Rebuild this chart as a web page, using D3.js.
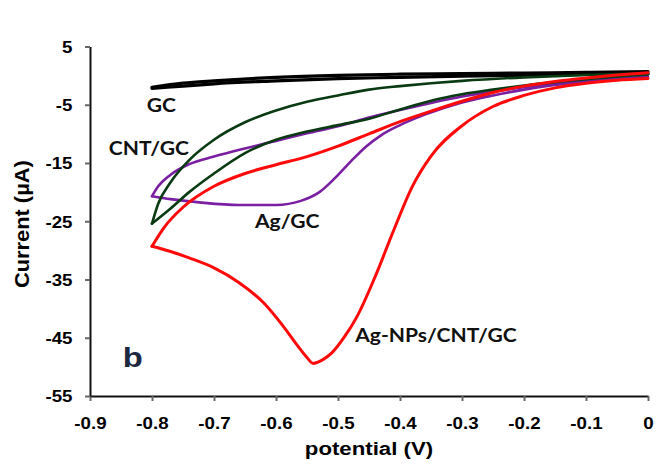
<!DOCTYPE html>
<html>
<head>
<meta charset="utf-8">
<script src="https://cdn.jsdelivr.net/npm/d3@7/dist/d3.min.js"></script>
<style>
  html, body { margin: 0; padding: 0; background: #fff; }
  svg { display: block; }
</style>
</head>
<body>
<div id="chart"></div>
<script>
// axis ticks
const xTicks = [-0.9, -0.8, -0.7, -0.6, -0.5, -0.4, -0.3, -0.2, -0.1, 0];
const xTickLabels = ['-0.9', '-0.8', '-0.7', '-0.6', '-0.5', '-0.4', '-0.3', '-0.2', '-0.1', '0'];
const yTicks = [5, -5, -15, -25, -35, -45, -55];
const yTickLabels = ['5', '-5', '-15', '-25', '-35', '-45', '-55'];

// each CV as two branches [potential V, current uA], both ending at the -0.8 V vertex
const gcUpper = [[0, 0.7], [-0.1, 0.55], [-0.2, 0.45], [-0.3, 0.35], [-0.4, 0.25], [-0.5, 0.05], [-0.6, -0.3], [-0.7, -0.9], [-0.75, -1.3], [-0.8, -2.0]];
const gcLower = [[0, 0.3], [-0.1, 0.2], [-0.2, 0.05], [-0.3, -0.1], [-0.4, -0.3], [-0.5, -0.5], [-0.6, -0.9], [-0.7, -1.4], [-0.75, -1.8], [-0.8, -2.2]];

const agUpper = [[0, 0.3], [-0.1, -0.8], [-0.2, -2.0], [-0.3, -3.6], [-0.35, -4.7], [-0.4, -5.9], [-0.45, -7.2], [-0.5, -8.7], [-0.55, -9.9], [-0.6, -11.2], [-0.65, -12.5], [-0.7, -13.9], [-0.74, -15.2], [-0.77, -17.0], [-0.79, -19.0], [-0.8, -20.7]];
const agLower = [[0, -0.2], [-0.1, -1.0], [-0.2, -2.4], [-0.25, -3.4], [-0.3, -4.6], [-0.36, -6.7], [-0.4, -8.5], [-0.43, -10.2], [-0.455, -12.2], [-0.48, -14.8], [-0.505, -17.6], [-0.53, -20.0], [-0.56, -21.5], [-0.6, -22.2], [-0.66, -22.2], [-0.72, -21.8], [-0.77, -21.2], [-0.8, -20.7]];

const cntUpper = [[0, 0.4], [-0.1, 0.1], [-0.2, -0.3], [-0.3, -0.9], [-0.35, -1.3], [-0.4, -1.8], [-0.45, -2.4], [-0.5, -3.4], [-0.55, -4.5], [-0.6, -6.0], [-0.65, -8.0], [-0.7, -11.0], [-0.74, -14.5], [-0.77, -18.3], [-0.79, -22.0], [-0.8, -25.4]];
const cntLower = [[0, 0.2], [-0.1, -0.6], [-0.2, -1.7], [-0.25, -2.4], [-0.3, -3.2], [-0.35, -4.3], [-0.4, -5.8], [-0.45, -7.4], [-0.5, -8.5], [-0.55, -9.6], [-0.6, -11.0], [-0.65, -13.3], [-0.7, -16.8], [-0.74, -20.0], [-0.77, -22.8], [-0.8, -25.4]];

const npUpper = [[0, 0.5], [-0.05, 0.1], [-0.1, -0.4], [-0.15, -1.0], [-0.2, -1.8], [-0.25, -2.9], [-0.3, -4.4], [-0.35, -6.1], [-0.4, -7.9], [-0.45, -10.0], [-0.5, -12.1], [-0.55, -13.9], [-0.6, -15.3], [-0.65, -16.8], [-0.7, -19.0], [-0.75, -22.6], [-0.78, -26.0], [-0.8, -29.3]];
const npLower = [[0, -0.5], [-0.05, -0.8], [-0.1, -1.3], [-0.15, -2.1], [-0.2, -3.4], [-0.25, -5.3], [-0.3, -8.6], [-0.35, -13.8], [-0.38, -19.0], [-0.41, -26.5], [-0.44, -34.5], [-0.47, -41.5], [-0.49, -44.9], [-0.51, -47.6], [-0.525, -48.8], [-0.54, -49.4], [-0.55, -48.4], [-0.565, -46.4], [-0.59, -42.8], [-0.62, -39.0], [-0.66, -35.5], [-0.7, -33.0], [-0.74, -31.3], [-0.77, -30.2], [-0.8, -29.3]];

const series = [
  { name: 'GC', color: '#000000', width: 3.2, branches: [gcUpper, gcLower] },
  { name: 'Ag/GC', color: '#7a1fa2', width: 2.6, branches: [agUpper, agLower] },
  { name: 'CNT/GC', color: '#0a3a12', width: 2.6, branches: [cntUpper, cntLower] },
  { name: 'Ag-NPs/CNT/GC', color: '#ff0a0a', width: 3, branches: [npUpper, npLower] }
];

const labels = [
  { text: 'GC', v: -0.785, c: -6.2 },
  { text: 'CNT/GC', v: -0.805, c: -13.6 },
  { text: 'Ag/GC', v: -0.582, c: -26.1 },
  { text: 'Ag-NPs/CNT/GC', v: -0.342, c: -45.7 }
];

const W = 656, H = 468;
const SX = 1.17; // the source image is stretched sideways
const svg = d3.select('#chart').append('svg').attr('width', W).attr('height', H);

const x = d3.scaleLinear().domain([-0.9, 0]).range([90, 648]);
const y = d3.scaleLinear().domain([-55, 5]).range([396, 46.5]);

const font = '"Liberation Sans", Arial, sans-serif';
const labFont = 'Lato, "Open Sans", sans-serif';

// axes
const xAxis = svg.append('g')
  .attr('transform', `translate(0,${y(-55)})`)
  .call(d3.axisBottom(x).tickValues(xTicks).tickFormat((d, i) => xTickLabels[i]).tickSize(5).tickSizeOuter(0).tickPadding(17));
const yAxis = svg.append('g')
  .attr('transform', `translate(${x(-0.9)},0)`)
  .call(d3.axisLeft(y).tickValues(yTicks).tickFormat((d, i) => yTickLabels[i]).tickSize(5).tickSizeOuter(0).tickPadding(10));

[xAxis, yAxis].forEach(a => {
  a.select('.domain').attr('stroke', '#111').attr('stroke-width', 2);
  a.selectAll('.tick line').attr('stroke', '#666').attr('stroke-width', 2);
  a.selectAll('.tick text')
    .attr('fill', '#000')
    .style('font-family', font)
    .style('font-weight', 'bold')
    .style('font-size', '16px');
});
xAxis.selectAll('.tick text').attr('transform', `scale(${SX},1)`);
yAxis.selectAll('.tick text').attr('transform', `scale(${SX},1)`).attr('dy', '0.36em');

// curves
const line = d3.line().x(d => x(d[0])).y(d => y(d[1])).curve(d3.curveMonotoneX);
const curves = svg.append('g').attr('fill', 'none').attr('stroke-linejoin', 'round').attr('stroke-linecap', 'round');
series.forEach(s => {
  s.branches.forEach(b => {
    curves.append('path')
      .attr('d', line(b.slice().sort((p, q) => p[0] - q[0])))
      .attr('stroke', s.color)
      .attr('stroke-width', s.width);
  });
});

// curve labels
svg.append('g').selectAll('text')
  .data(labels)
  .enter()
  .append('text')
  .attr('transform', d => `translate(${x(d.v)},${y(d.c)}) scale(${SX},1)`)
  .attr('text-anchor', 'middle')
  .attr('fill', '#111')
  .style('font-family', labFont)
  .style('font-weight', 'bold')
  .style('font-size', '18px')
  .text(d => d.text);

// panel letter
svg.append('text')
  .attr('transform', `translate(${x(-0.847)},${y(-50.1)}) scale(${SX},1)`)
  .attr('fill', '#1c2840')
  .style('font-family', font)
  .style('font-weight', 'bold')
  .style('font-size', '28px')
  .text('b');

// axis titles
svg.append('text')
  .attr('transform', `translate(${x(-0.45)},455) scale(${SX},1)`)
  .attr('text-anchor', 'middle')
  .attr('fill', '#000')
  .style('font-family', font)
  .style('font-weight', 'bold')
  .style('font-size', '19px')
  .text('potential (V)');

svg.append('text')
  .attr('transform', `translate(29,${y(-25.5)}) rotate(-90) scale(1.15,1.1)`)
  .attr('text-anchor', 'middle')
  .attr('fill', '#000')
  .style('font-family', font)
  .style('font-weight', 'bold')
  .style('font-size', '19px')
  .text('Current (µA)');
</script>
</body>
</html>
